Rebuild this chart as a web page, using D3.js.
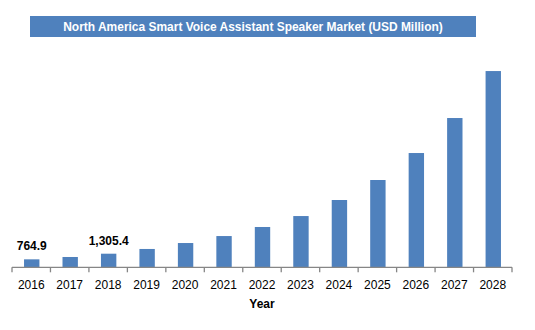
<!DOCTYPE html>
<html>
<head>
<meta charset="utf-8">
<script src="https://cdn.jsdelivr.net/npm/d3@7"></script>
<style>
  body { margin: 0; background: #fff; }
  svg text { font-family: "Liberation Sans", Arial, sans-serif; }
  svg text.title { font-family: "Liberation Sans Narrow", "Liberation Sans", Arial, sans-serif; }
</style>
</head>
<body>
<svg id="chart" width="535" height="330"></svg>
<script>
// market size by year, USD million
const years = ["2016", "2017", "2018", "2019", "2020", "2021", "2022",
               "2023", "2024", "2025", "2026", "2027", "2028"];
const values = [764.9, 990, 1305.4, 1760, 2330, 3000, 3870,
                4920, 6460, 8380, 10970, 14330, 18840];
// only these years get a value label
const labelled = ["2016", "2018"];

const title = "North America Smart Voice Assistant Speaker Market (USD Million)";
const xTitle = "Year";

const width = 535, height = 330;
const margin = { top: 67, right: 23, bottom: 63, left: 12 };
const baseline = height - margin.bottom + 0.3;

const svg = d3.select("#chart");

const x = d3.scaleBand()
  .domain(years)
  .range([margin.left, width - margin.right])
  .paddingInner(0.6)
  .paddingOuter(0.3);

const y = d3.scaleLinear()
  .domain([0, 19200])
  .range([baseline, baseline - 200]);

// title banner
svg.append("rect")
  .attr("x", 30)
  .attr("y", 16)
  .attr("width", 446)
  .attr("height", 21)
  .attr("fill", "#4F81BD");

const titleText = svg.append("text")
  .attr("class", "title")
  .attr("x", 253)
  .attr("y", 31)
  .attr("text-anchor", "middle")
  .attr("fill", "#fff")
  .attr("font-weight", "bold")
  .attr("font-size", 12)
  .text(title);
// fit the title to the banner width
const tl = titleText.node().getComputedTextLength();
titleText.attr("font-size", 12 * 380 / tl);

// bars
svg.append("g")
  .selectAll("rect")
  .data(years)
  .join("rect")
  .attr("x", d => x(d) + 0.5)
  .attr("y", (d, i) => y(values[i]))
  .attr("width", x.bandwidth())
  .attr("height", (d, i) => baseline - y(values[i]))
  .attr("fill", "#4F81BD");

// value labels
svg.append("g")
  .selectAll("text")
  .data(years.filter(d => labelled.includes(d)))
  .join("text")
  .attr("x", d => x(d) + x.bandwidth() / 2 + 0.5)
  .attr("y", d => y(values[years.indexOf(d)]) - 9)
  .attr("text-anchor", "middle")
  .attr("font-size", 12)
  .attr("font-weight", "bold")
  .attr("fill", "#000")
  .text(d => d3.format(",.1f")(values[years.indexOf(d)]));

// x axis with ticks on the category boundaries
const xAxis = svg.append("g")
  .attr("transform", `translate(0,${baseline})`);

const left = margin.left, right = width - margin.right;

xAxis.append("line")
  .attr("x1", left)
  .attr("x2", right)
  .attr("stroke", "#868686")
  .attr("stroke-width", 1.3);

xAxis.selectAll(".tick")
  .data(d3.range(years.length + 1))
  .join("line")
  .attr("class", "tick")
  .attr("x1", i => left + i * (right - left) / years.length)
  .attr("x2", i => left + i * (right - left) / years.length)
  .attr("y1", 0)
  .attr("y2", 5)
  .attr("stroke", "#868686")
  .attr("stroke-width", 1.3);

xAxis.selectAll(".label")
  .data(years)
  .join("text")
  .attr("class", "label")
  .attr("x", (d, i) => left + (i + 0.5) * (right - left) / years.length)
  .attr("y", 22)
  .attr("text-anchor", "middle")
  .attr("font-size", 12)
  .attr("fill", "#000")
  .text(d => d);

svg.append("text")
  .attr("x", 262)
  .attr("y", 308)
  .attr("text-anchor", "middle")
  .attr("font-size", 12)
  .attr("font-weight", "bold")
  .attr("fill", "#000")
  .text(xTitle);
</script>
</body>
</html>
